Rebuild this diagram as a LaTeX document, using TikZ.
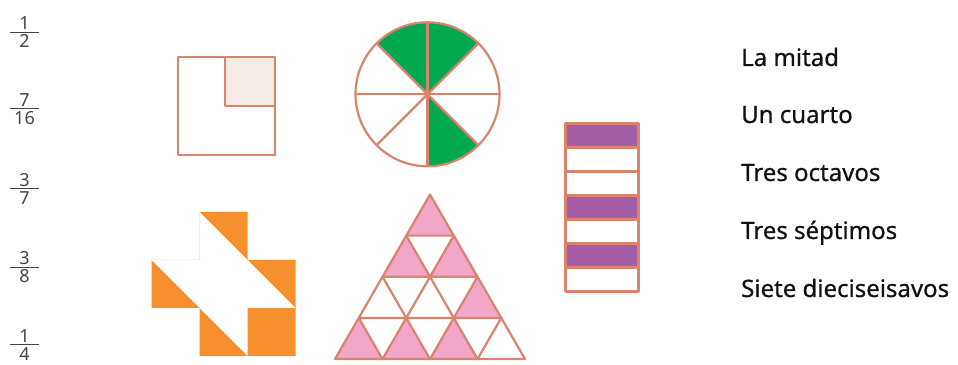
\documentclass[tikz,border=0pt]{standalone}
\usepackage{fontspec}
\setmainfont{Noto Sans}
\newfontfamily\labelfont[FakeBold=0.6]{Noto Sans}
\definecolor{frxLine}{HTML}{D8846E}
\definecolor{frxBeige}{HTML}{F3EBE4}
\definecolor{frxGreen}{HTML}{00A94F}
\definecolor{frxPurple}{HTML}{A35EA6}
\definecolor{frxOrange}{HTML}{F6902F}
\definecolor{frxPink}{HTML}{F2A6C8}
\definecolor{frxInk}{HTML}{111111}
\definecolor{frxGray}{HTML}{444444}
\tikzset{
  frx line/.style={draw=frxLine, line width=2.2pt, line join=round},
  frx num/.style={font=\fontsize{18}{18}\selectfont, text=frxGray, inner sep=0pt, anchor=base},
  frx bar/.style={draw=frxGray, line width=0.8pt},
  frx label/.style={font=\labelfont\fontsize{24}{24}\selectfont, text=frxInk, inner sep=0pt, anchor=base west},
}
\begin{document}
\begin{tikzpicture}[x=1pt,y=1pt]
  \useasboundingbox (0,0) rectangle (958,364);
  % Fractions down the left edge
  \foreach \n/\d/\y [count=\i] in {1/2/332,7/16/255.5,3/7/175.5,3/8/97,1/4/20} {
    \node[frx num] (num\i) at (24.5,\y+2) {\n};
    \node[frx num] (den\i) at (24.5,\y-16) {\d};
    \draw[frx bar] (10,\y) -- (39,\y);
  }
  % Square, one quarter shaded
  \fill[frxBeige] (225,258) rectangle (275,307);
  \draw[frx line] (178,209) rectangle (275,307);
  \draw[frx line] (225,307) -- (225,258) -- (275,258);
  % Circle cut in eighths
  \coordinate (cc) at (427.5,269.7);
  \foreach \a in {45,90,270}
    \fill[frxGreen] (cc) -- ++(\a:72) arc[start angle=\a, end angle=\a+45, radius=72] -- cycle;
  \foreach \a in {0,45,...,315} \draw[frx line] (cc) -- ++(\a:72);
  \draw[frx line] (cc) circle[radius=72];
  % Column of sevenths
  \foreach \r in {0,3,5}
    \fill[frxPurple] (565.5,240.5-24*\r) rectangle (638.5,216.5-24*\r);
  \foreach \r in {0,...,6}
    \draw[frx line] (565.5,240.5-24*\r) rectangle (638.5,216.5-24*\r);
  % Orange cross with a white band across it
  \fill[frxOrange] (199.5,152) -- (247.5,152) -- (247.5,104) -- (295.5,104) -- (295.5,8)
    -- (199.5,8) -- (199.5,56) -- (151.5,56) -- (151.5,104) -- (199.5,104) -- cycle;
  \fill[white] (199.5,152) -- (295.5,56) -- (247.5,56) -- (247.5,8) -- (151.5,104)
    -- (199.5,104) -- cycle;
  % Triangle of sixteenths
  \foreach \r/\k/\c in {0/0/frxPink, 1/0/frxPink, 1/1/frxPink, 2/0/white, 2/1/white,
      2/2/frxPink, 3/0/frxPink, 3/1/frxPink, 3/2/frxPink, 3/3/white}
    \filldraw[frx line, fill=\c] ({430+(\k-\r/2)*47.5},{169.5-\r*41.14})
      -- ++(-23.75,-41.14) -- ++(47.5,0) -- cycle;
  % Names of the fractions
  \foreach \t/\y [count=\i] in {La mitad/298, Un cuarto/241, Tres octavos/183,
      Tres séptimos/125, Siete dieciseisavos/67}
    \node[frx label] (lab\i) at (741,\y) {\t};
\end{tikzpicture}
\end{document}
